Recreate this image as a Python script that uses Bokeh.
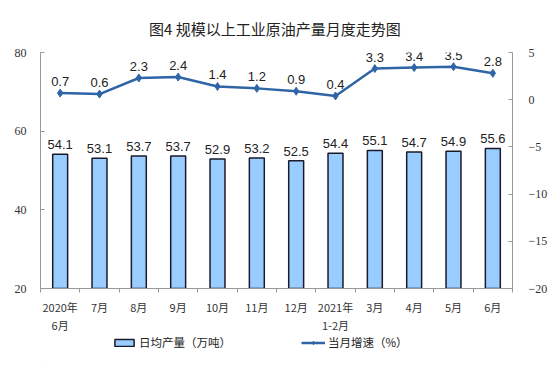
from bokeh.plotting import figure
from bokeh.layouts import column
from bokeh.models import Range1d, LinearAxis, FixedTicker, Legend, LegendItem, ColumnDataSource
from bokeh.core.properties import value
from bokeh.embed import file_html
from bokeh.resources import INLINE

categories = ["2020年\n6月", "7月", "8月", "9月", "10月", "11月", "12月", "2021年\n1-2月", "3月", "4月", "5月", "6月"]
daily_output = [54.1, 53.1, 53.7, 53.7, 52.9, 53.2, 52.5, 54.4, 55.1, 54.7, 54.9, 55.6]
growth = [0.7, 0.6, 2.3, 2.4, 1.4, 1.2, 0.9, 0.4, 3.3, 3.4, 3.5, 2.8]
left_ticks = [20, 40, 60, 80]
right_ticks = [-20, -15, -10, -5, 0, 5]
legend_labels = ["日均产量（万吨）", "当月增速（%）"]

BAR_FILL = "#99CCFF"
BAR_LINE = "#1a1a2a"
LINE_COLOR = "#2F65A7"

xs = [i + 0.5 for i in range(len(categories))]
src = ColumnDataSource(dict(x=xs, bar=daily_output, g=growth,
                            bl=["%.1f" % v for v in daily_output],
                            gl=["%.1f" % v for v in growth]))

chart = figure(width=550, height=335, output_backend="svg", toolbar_location=None,
               x_range=Range1d(0, len(categories)), y_range=Range1d(20, 80),
               min_border_left=40, min_border_right=38, min_border_top=52, min_border_bottom=43,
               title="图4  规模以上工业原油产量月度走势图")
chart.title.text_font = "Noto Sans CJK SC"
chart.title.text_font_size = "15px"
chart.title.text_font_style = "normal"
chart.title.text_color = "#222222"
chart.title.align = "center"
chart.title.standoff = 27
chart.outline_line_color = None
chart.grid.visible = False

chart.extra_y_ranges = {"g": Range1d(-20, 5)}

# bars
chart.vbar(x="x", top="bar", bottom=20, width=0.38, source=src,
           fill_color=BAR_FILL, line_color=BAR_LINE, line_width=1.5)
chart.text(x="x", y="bar", text="bl", source=src, text_align="center", text_baseline="bottom",
           y_offset=-5, text_font=value("Liberation Sans"), text_font_size="13px", text_color="#222222")

# line
chart.line(x="x", y="g", source=src, y_range_name="g", line_color=LINE_COLOR, line_width=2.5)
chart.scatter(x="x", y="g", source=src, y_range_name="g", marker="diamond", size=8,
              fill_color=LINE_COLOR, line_color=LINE_COLOR)
chart.text(x="x", y="g", text="gl", source=src, y_range_name="g", text_align="center",
           text_baseline="bottom", y_offset=-7, text_font=value("Liberation Sans"),
           text_font_size="13px", text_color="#222222")

# axes
xa = chart.xaxis[0]
xa.ticker = FixedTicker(ticks=xs, minor_ticks=list(range(len(categories) + 1)))
xa.major_label_overrides = {x: c for x, c in zip(xs, categories)}
xa.major_tick_out = 0
xa.major_tick_in = 0
xa.minor_tick_out = 4
xa.minor_tick_in = 0
xa.minor_tick_line_color = "#999999"
xa.axis_line_color = "#999999"
xa.major_label_text_font = "Noto Sans CJK SC"
xa.major_label_text_font_size = "11px"
xa.major_label_text_line_height = 1.15
xa.major_label_text_color = "#333333"
xa.major_label_standoff = 6

ya = chart.yaxis[0]
ya.ticker = FixedTicker(ticks=left_ticks)
ya.axis_line_color = "#999999"
ya.major_tick_line_color = "#999999"
ya.major_tick_in = 4
ya.major_tick_out = 0
ya.minor_tick_line_color = None
ya.major_label_text_font = "Liberation Serif"
ya.major_label_text_font_size = "12px"
ya.major_label_text_color = "#333333"
ya.major_label_standoff = 14

ra = LinearAxis(y_range_name="g", ticker=FixedTicker(ticks=right_ticks))
ra.axis_line_color = "#999999"
ra.major_tick_line_color = "#999999"
ra.major_tick_in = 4
ra.major_tick_out = 0
ra.minor_tick_line_color = None
ra.major_label_text_font = "Liberation Serif"
ra.major_label_text_font_size = "12px"
ra.major_label_text_color = "#333333"
ra.major_label_standoff = 16
chart.add_layout(ra, "right")

# legend strip
leg = figure(width=550, height=30, output_backend="svg", toolbar_location=None,
             x_range=Range1d(0, 1), y_range=Range1d(0, 1),
             x_axis_location=None, y_axis_location=None,
             min_border_left=0, min_border_right=0, min_border_top=0, min_border_bottom=0)
leg.grid.visible = False
leg.outline_line_color = None
offscreen = ColumnDataSource(dict(x=[-5], y=[-5], top=[-5]))
rb = leg.vbar(x="x", top="top", width=0.1, source=offscreen,
              fill_color=BAR_FILL, line_color=BAR_LINE, line_width=1.5)
rl = leg.line(x="x", y="y", source=offscreen, line_color=LINE_COLOR, line_width=2.5)
rm = leg.scatter(x="x", y="y", source=offscreen, marker="diamond", size=6,
                 fill_color=LINE_COLOR, line_color=LINE_COLOR)
legend = Legend(items=[LegendItem(label=legend_labels[0], renderers=[rb]),
                       LegendItem(label=legend_labels[1], renderers=[rl, rm])],
                orientation="horizontal", location=(72, 15), spacing=70,
                label_text_font="Noto Sans CJK SC", label_text_font_size="11.5px",
                label_text_color="#222222", border_line_color=None, background_fill_alpha=0,
                glyph_width=24, glyph_height=9, label_standoff=3, padding=0, margin=0)
leg.add_layout(legend, "center")

p = column(chart, leg, spacing=0)

open("out.html", "w").write(file_html(p, INLINE))
